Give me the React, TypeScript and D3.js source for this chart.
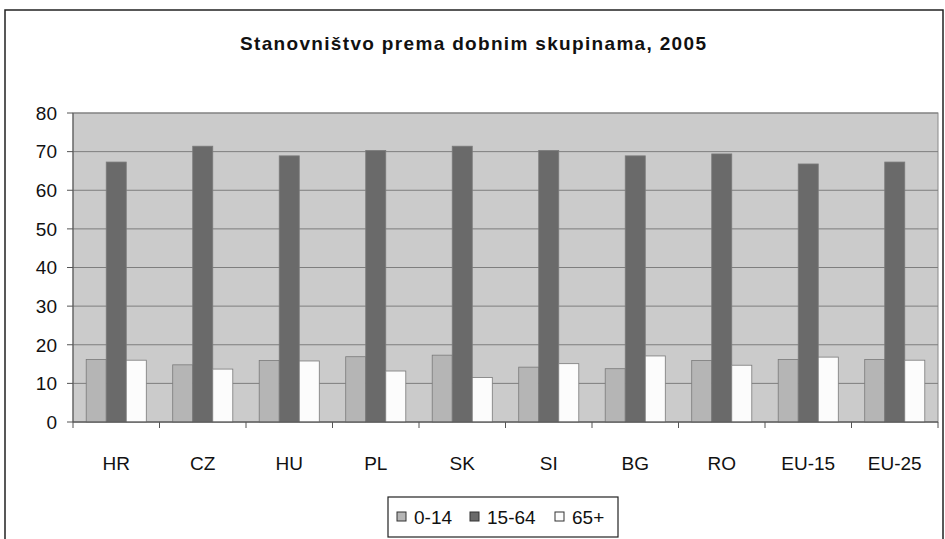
import { useMemo } from 'react';
import * as d3 from 'd3';

const W = 945;
const H = 539;
const PLOT = { left: 73, right: 938, top: 113, bottom: 422 };
const FONT = '"Liberation Sans", Arial, sans-serif';

const countries = ['HR', 'CZ', 'HU', 'PL', 'SK', 'SI', 'BG', 'RO', 'EU-15', 'EU-25'];
const groups = ['0-14', '15-64', '65+'];
const age0_14 = [16.2, 14.8, 15.9, 16.9, 17.3, 14.2, 13.8, 15.9, 16.2, 16.2];
const age15_64 = [67.3, 71.4, 68.9, 70.3, 71.4, 70.3, 68.9, 69.4, 66.8, 67.3];
const age65 = [16.0, 13.7, 15.8, 13.2, 11.5, 15.1, 17.1, 14.7, 16.8, 16.0];
const yTicks = [0, 10, 20, 30, 40, 50, 60, 70, 80];

const colors = ['#b5b5b5', '#6a6a6a', '#fcfcfc'];

export default function App() {
  const series = [age0_14, age15_64, age65];

  const x0 = useMemo(
    () => d3.scaleBand().domain(countries).range([PLOT.left, PLOT.right]).padding(0),
    []
  );
  const x1 = useMemo(
    () =>
      d3.scaleBand().domain(groups).range([0, x0.bandwidth()]).paddingInner(0).paddingOuter(0.66),
    [x0]
  );
  const y = useMemo(() => d3.scaleLinear().domain([0, 80]).range([PLOT.bottom, PLOT.top]), []);

  const boundaries = countries.map((c) => x0(c)).concat([PLOT.right]);

  return (
    <svg
      width={W}
      height={H}
      style={{ position: 'absolute', left: 0, top: 0, background: '#fff' }}
      fontFamily={FONT}
    >
      {/* outer frame */}
      <rect x={5} y={10} width={938} height={H} fill="#fff" stroke="#222" strokeWidth={1.5} />

      <text
        x={473}
        y={50}
        textAnchor="middle"
        fontSize={19}
        fontWeight="bold"
        textLength={466}
        lengthAdjust="spacing"
        fill="#111"
      >
        Stanovništvo prema dobnim skupinama, 2005
      </text>

      {/* plot area */}
      <rect
        x={PLOT.left}
        y={PLOT.top}
        width={PLOT.right - PLOT.left}
        height={PLOT.bottom - PLOT.top}
        fill="#cbcbcb"
        stroke="#8a8a8a"
        strokeWidth={1}
      />
      {yTicks.map((t) => (
        <g key={t}>
          <line x1={PLOT.left} x2={PLOT.right} y1={y(t)} y2={y(t)} stroke="#7e7e7e" strokeWidth={1} />
          <line x1={PLOT.left - 6} x2={PLOT.left} y1={y(t)} y2={y(t)} stroke="#555" strokeWidth={1} />
          <text x={57} y={y(t)} dy="0.36em" textAnchor="end" fontSize={19} fill="#111">
            {t}
          </text>
        </g>
      ))}

      {/* bars */}
      {countries.map((c, i) => (
        <g key={c} transform={`translate(${x0(c)},0)`}>
          {groups.map((g, k) => (
            <rect
              key={g}
              x={x1(g)}
              y={y(series[k][i])}
              width={x1.bandwidth()}
              height={y(0) - y(series[k][i])}
              fill={colors[k]}
              stroke="#7a7a7a"
              strokeWidth={0.8}
            />
          ))}
        </g>
      ))}

      {/* axes */}
      <line x1={PLOT.left} x2={PLOT.left} y1={PLOT.top} y2={PLOT.bottom} stroke="#555" />
      <line x1={PLOT.left} x2={PLOT.right} y1={PLOT.bottom} y2={PLOT.bottom} stroke="#555" />
      {boundaries.map((bx, i) => (
        <line key={i} x1={bx} x2={bx} y1={PLOT.bottom} y2={PLOT.bottom + 6} stroke="#555" />
      ))}
      {countries.map((c) => (
        <text
          key={c}
          x={(x0(c) as number) + x0.bandwidth() / 2}
          y={463}
          dy="0.36em"
          textAnchor="middle"
          fontSize={19}
          fill="#111"
        >
          {c}
        </text>
      ))}

      {/* legend */}
      <rect x={388} y={497} width={230} height={40} fill="#fff" stroke="#222" strokeWidth={1.2} />
      {groups.map((g, k) => {
        const lx = [397, 470, 555][k];
        return (
          <g key={g}>
            <rect x={lx} y={512} width={9} height={9} fill={colors[k]} stroke="#333" strokeWidth={1} />
            <text x={lx + 17} y={517} dy="0.36em" fontSize={19} fill="#111">
              {g}
            </text>
          </g>
        );
      })}
    </svg>
  );
}
